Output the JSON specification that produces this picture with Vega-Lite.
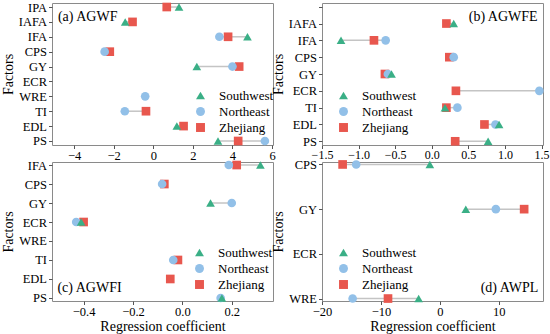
{
  "$schema": "https://vega.github.io/schema/vega-lite/v6.json",
  "padding": {"left": 0, "top": 0, "right": 0, "bottom": 0},
  "background": "white",
  "datasets": {
    "pts": [
      {"p": "a", "f": "IPA", "r": "Zhejiang", "v": 0.68},
      {"p": "a", "f": "IPA", "r": "Southwest", "v": 1.3},
      {"p": "a", "f": "IAFA", "r": "Zhejiang", "v": -1.05},
      {"p": "a", "f": "IAFA", "r": "Southwest", "v": -1.42},
      {"p": "a", "f": "IFA", "r": "Zhejiang", "v": 3.78},
      {"p": "a", "f": "IFA", "r": "Northeast", "v": 3.34},
      {"p": "a", "f": "IFA", "r": "Southwest", "v": 4.76},
      {"p": "a", "f": "CPS", "r": "Zhejiang", "v": -2.2},
      {"p": "a", "f": "CPS", "r": "Northeast", "v": -2.46},
      {"p": "a", "f": "GY", "r": "Zhejiang", "v": 4.34},
      {"p": "a", "f": "GY", "r": "Northeast", "v": 4.0},
      {"p": "a", "f": "GY", "r": "Southwest", "v": 2.2},
      {"p": "a", "f": "WRE", "r": "Northeast", "v": -0.41},
      {"p": "a", "f": "TI", "r": "Zhejiang", "v": -0.37},
      {"p": "a", "f": "TI", "r": "Northeast", "v": -1.44},
      {"p": "a", "f": "EDL", "r": "Zhejiang", "v": 1.53},
      {"p": "a", "f": "EDL", "r": "Southwest", "v": 1.19},
      {"p": "a", "f": "PS", "r": "Zhejiang", "v": 4.29},
      {"p": "a", "f": "PS", "r": "Northeast", "v": 5.64},
      {"p": "a", "f": "PS", "r": "Southwest", "v": 3.27},
      {"p": "b", "f": "IAFA", "r": "Zhejiang", "v": 0.2},
      {"p": "b", "f": "IAFA", "r": "Southwest", "v": 0.3},
      {"p": "b", "f": "IFA", "r": "Zhejiang", "v": -0.79},
      {"p": "b", "f": "IFA", "r": "Northeast", "v": -0.63},
      {"p": "b", "f": "IFA", "r": "Southwest", "v": -1.24},
      {"p": "b", "f": "CPS", "r": "Zhejiang", "v": 0.24},
      {"p": "b", "f": "CPS", "r": "Northeast", "v": 0.3},
      {"p": "b", "f": "GY", "r": "Zhejiang", "v": -0.64},
      {"p": "b", "f": "GY", "r": "Northeast", "v": -0.6},
      {"p": "b", "f": "GY", "r": "Southwest", "v": -0.55},
      {"p": "b", "f": "ECR", "r": "Zhejiang", "v": 0.33},
      {"p": "b", "f": "ECR", "r": "Northeast", "v": 1.47},
      {"p": "b", "f": "TI", "r": "Zhejiang", "v": 0.2},
      {"p": "b", "f": "TI", "r": "Northeast", "v": 0.35},
      {"p": "b", "f": "TI", "r": "Southwest", "v": 0.18},
      {"p": "b", "f": "EDL", "r": "Zhejiang", "v": 0.72},
      {"p": "b", "f": "EDL", "r": "Northeast", "v": 0.87},
      {"p": "b", "f": "EDL", "r": "Southwest", "v": 0.92},
      {"p": "b", "f": "PS", "r": "Zhejiang", "v": 0.32},
      {"p": "b", "f": "PS", "r": "Southwest", "v": 0.77},
      {"p": "c", "f": "IFA", "r": "Zhejiang", "v": 0.22},
      {"p": "c", "f": "IFA", "r": "Northeast", "v": 0.188},
      {"p": "c", "f": "IFA", "r": "Southwest", "v": 0.316},
      {"p": "c", "f": "CPS", "r": "Zhejiang", "v": -0.073},
      {"p": "c", "f": "CPS", "r": "Northeast", "v": -0.082},
      {"p": "c", "f": "GY", "r": "Northeast", "v": 0.2},
      {"p": "c", "f": "GY", "r": "Southwest", "v": 0.114},
      {"p": "c", "f": "ECR", "r": "Zhejiang", "v": -0.4},
      {"p": "c", "f": "ECR", "r": "Northeast", "v": -0.43},
      {"p": "c", "f": "ECR", "r": "Southwest", "v": -0.41},
      {"p": "c", "f": "TI", "r": "Zhejiang", "v": -0.018},
      {"p": "c", "f": "TI", "r": "Northeast", "v": -0.037},
      {"p": "c", "f": "EDL", "r": "Zhejiang", "v": -0.049},
      {"p": "c", "f": "PS", "r": "Northeast", "v": 0.155},
      {"p": "c", "f": "PS", "r": "Southwest", "v": 0.16},
      {"p": "d", "f": "CPS", "r": "Zhejiang", "v": -16.5},
      {"p": "d", "f": "CPS", "r": "Northeast", "v": -14.2},
      {"p": "d", "f": "CPS", "r": "Southwest", "v": -1.7},
      {"p": "d", "f": "GY", "r": "Zhejiang", "v": 14.3},
      {"p": "d", "f": "GY", "r": "Northeast", "v": 9.5},
      {"p": "d", "f": "GY", "r": "Southwest", "v": 4.4},
      {"p": "d", "f": "WRE", "r": "Zhejiang", "v": -8.8},
      {"p": "d", "f": "WRE", "r": "Northeast", "v": -14.8},
      {"p": "d", "f": "WRE", "r": "Southwest", "v": -3.6}
    ],
    "labs": [
      {"p": "a", "t": "(a) AGWF"},
      {"p": "b", "t": "(b) AGWFE"},
      {"p": "c", "t": "(c) AGWFI"},
      {"p": "d", "t": "(d) AWPL"}
    ]
  },
  "config": {
    "font": "Liberation Serif, DejaVu Serif, serif",
    "view": {"stroke": "#8a8a8a", "strokeWidth": 1},
    "text": {"font": "Liberation Serif, DejaVu Serif, serif"},
    "axis": {
      "domain": false, "grid": false,
      "labelFont": "Liberation Serif, DejaVu Serif, serif", "labelFontSize": 12.5, "labelColor": "#000",
      "titleFont": "Liberation Serif, DejaVu Serif, serif", "titleFontSize": 14, "titleFontWeight": "normal", "titleColor": "#000",
      "tickColor": "#555", "tickSize": 3.5, "labelOverlap": false, "labelFlush": false, "labelBound": false
    },
    "axisY": {"titlePadding": 3, "labelPadding": 2},
    "axisX": {"titlePadding": 1, "labelPadding": 1, "labelOverlap": false},
    "legend": {
      "labelFont": "Liberation Serif, DejaVu Serif, serif", "labelFontSize": 13, "labelColor": "#000",
      "symbolSize": 80, "symbolStrokeWidth": 0, "rowPadding": 2, "labelOffset": 12, "padding": 0
    }
  },
  "columns": 2,
  "spacing": {"row": 17, "column": 49},
  "bounds": "flush",
  "resolve": {"scale": {"x": "independent", "y": "independent", "color": "independent", "shape": "independent"}},
  "concat": [
    {
      "width": 221, "height": 142,
      "layer": [
        {"mark": {"type": "rule", "color": "#b8b8b8", "strokeWidth": 1.5}, "encoding": {"x": {"datum": 0, "type": "quantitative", "title": null}}},
        {"data": {"name": "pts"}, "transform": [{"filter": "datum.p == 'a'"}],
         "mark": {"type": "rule", "color": "#c4c4c4", "strokeWidth": 1.5},
         "encoding": {
           "y": {"field": "f", "type": "nominal", "title": "Factors", "scale": {"type": "point", "domain": ["IPA","IAFA","IFA","CPS","GY","ECR","WRE","TI","EDL","PS"], "padding": 0.27}},
           "x": {"aggregate": "min", "field": "v", "type": "quantitative", "title": null},
           "x2": {"aggregate": "max", "field": "v"}
         }},
        {"data": {"name": "pts"}, "transform": [{"filter": "datum.p == 'a'"}],
         "mark": {"type": "point", "filled": true, "opacity": 1, "size": 75},
         "encoding": {
           "y": {"field": "f", "type": "nominal", "title": "Factors", "scale": {"type": "point", "domain": ["IPA","IAFA","IFA","CPS","GY","ECR","WRE","TI","EDL","PS"], "padding": 0.27}},
           "x": {"field": "v", "type": "quantitative", "title": null, "scale": {"domain": [-5.12, 6.05], "nice": false, "zero": false},
                 "axis": {"values": [-4,-2,0,2,4,6], "format": "d", "labelOverlap": false}},
           "color": {"field": "r", "type": "nominal", "scale": {"domain": ["Southwest","Northeast","Zhejiang"], "range": ["#3aaf86","#92c0e8","#e8574e"]},
                     "legend": {"orient": "none", "legendX": 142, "legendY": 86, "title": null}},
           "shape": {"field": "r", "type": "nominal", "scale": {"domain": ["Southwest","Northeast","Zhejiang"], "range": ["triangle-up","circle","square"]},
                     "legend": {"orient": "none", "legendX": 142, "legendY": 86, "title": null}}
         }},
        {"data": {"name": "labs"}, "transform": [{"filter": "datum.p == 'a'"}],
         "mark": {"type": "text", "align": "left", "baseline": "middle", "dy": -5, "fontSize": 14, "color": "#000"},
         "encoding": {"x": {"datum": -4.82, "type": "quantitative", "title": null}, "y": {"datum": "IAFA", "type": "nominal"}, "text": {"field": "t"}}}
      ]
    },
    {
      "width": 221, "height": 142,
      "encoding": {
        "x": {"type": "quantitative", "title": null, "scale": {"domain": [-1.5, 1.52], "nice": false, "zero": false},
              "axis": {"values": [-1.5,-1,-0.5,0,0.5,1,1.5], "format": ".1f", "labelOverlap": false, "labelFontSize": 12}}
      },
      "layer": [
        {"mark": {"type": "rule", "color": "#9a9a9a", "strokeWidth": 1.2}, "encoding": {"x": {"datum": 0, "type": "quantitative", "title": null, "axis": {"values": [-1.5,-1,-0.5,0,0.5,1,1.5], "format": ".1f", "labelOverlap": false, "labelFontSize": 12}}}},
        {"data": {"name": "pts"}, "transform": [{"filter": "datum.p == 'b'"}],
         "mark": {"type": "rule", "color": "#c4c4c4", "strokeWidth": 1.5},
         "encoding": {
           "y": {"field": "f", "type": "nominal", "title": "Factors", "scale": {"type": "point", "domain": ["IPA","IAFA","IFA","CPS","GY","ECR","TI","EDL","PS"], "padding": 0.22},
                 "axis": {"labelExpr": "datum.value == 'IPA' ? '' : datum.label"}},
           "x": {"aggregate": "min", "field": "v", "type": "quantitative", "title": null, "axis": {"values": [-1.5,-1,-0.5,0,0.5,1,1.5], "format": ".1f", "labelOverlap": false, "labelFontSize": 12}},
           "x2": {"aggregate": "max", "field": "v"}
         }},
        {"data": {"name": "pts"}, "transform": [{"filter": "datum.p == 'b'"}],
         "mark": {"type": "point", "filled": true, "opacity": 1, "size": 75},
         "encoding": {
           "y": {"field": "f", "type": "nominal", "title": "Factors", "scale": {"type": "point", "domain": ["IPA","IAFA","IFA","CPS","GY","ECR","TI","EDL","PS"], "padding": 0.22},
                 "axis": {"labelExpr": "datum.value == 'IPA' ? '' : datum.label"}},
           "x": {"field": "v", "type": "quantitative", "title": null, "scale": {"domain": [-1.5, 1.52], "nice": false, "zero": false},
                 "axis": {"values": [-1.5,-1,-0.5,0,0.5,1,1.5], "format": ".1f", "labelOverlap": false, "labelFontSize": 12}},
           "color": {"field": "r", "type": "nominal", "scale": {"domain": ["Southwest","Northeast","Zhejiang"], "range": ["#3aaf86","#92c0e8","#e8574e"]},
                     "legend": {"orient": "none", "legendX": 15, "legendY": 86, "title": null}},
           "shape": {"field": "r", "type": "nominal", "scale": {"domain": ["Southwest","Northeast","Zhejiang"], "range": ["triangle-up","circle","square"]},
                     "legend": {"orient": "none", "legendX": 15, "legendY": 86, "title": null}}
         }},
        {"data": {"name": "labs"}, "transform": [{"filter": "datum.p == 'b'"}],
         "mark": {"type": "text", "align": "right", "baseline": "middle", "dy": -7, "fontSize": 14, "color": "#000"},
         "encoding": {"x": {"datum": 1.446, "type": "quantitative", "title": null, "axis": {"values": [-1.5,-1,-0.5,0,0.5,1,1.5], "format": ".1f", "labelOverlap": false, "labelFontSize": 12}}, "y": {"datum": "IAFA", "type": "nominal"}, "text": {"field": "t"}}}
      ]
    },
    {
      "width": 221, "height": 139,
      "layer": [
        {"mark": {"type": "rule", "color": "#333333", "strokeWidth": 1.2}, "encoding": {"x": {"datum": 0, "type": "quantitative", "title": "Regression coefficient"}}},
        {"data": {"name": "pts"}, "transform": [{"filter": "datum.p == 'c'"}],
         "mark": {"type": "rule", "color": "#c4c4c4", "strokeWidth": 1.5},
         "encoding": {
           "y": {"field": "f", "type": "nominal", "title": "Factors", "scale": {"type": "point", "domain": ["IFA","CPS","GY","ECR","WRE","TI","EDL","PS"], "padding": 0.16}},
           "x": {"aggregate": "min", "field": "v", "type": "quantitative", "title": "Regression coefficient"},
           "x2": {"aggregate": "max", "field": "v"}
         }},
        {"data": {"name": "pts"}, "transform": [{"filter": "datum.p == 'c'"}],
         "mark": {"type": "point", "filled": true, "opacity": 1, "size": 75},
         "encoding": {
           "y": {"field": "f", "type": "nominal", "title": "Factors", "scale": {"type": "point", "domain": ["IFA","CPS","GY","ECR","WRE","TI","EDL","PS"], "padding": 0.16}},
           "x": {"field": "v", "type": "quantitative", "title": "Regression coefficient", "scale": {"domain": [-0.528, 0.367], "nice": false, "zero": false},
                 "axis": {"values": [-0.4,-0.2,0,0.2], "format": ".1f", "labelOverlap": false}},
           "color": {"field": "r", "type": "nominal", "scale": {"domain": ["Southwest","Northeast","Zhejiang"], "range": ["#3aaf86","#92c0e8","#e8574e"]},
                     "legend": {"orient": "none", "legendX": 141, "legendY": 84, "title": null}},
           "shape": {"field": "r", "type": "nominal", "scale": {"domain": ["Southwest","Northeast","Zhejiang"], "range": ["triangle-up","circle","square"]},
                     "legend": {"orient": "none", "legendX": 141, "legendY": 84, "title": null}}
         }},
        {"data": {"name": "labs"}, "transform": [{"filter": "datum.p == 'c'"}],
         "mark": {"type": "text", "align": "left", "baseline": "middle", "dy": 9, "fontSize": 14, "color": "#000"},
         "encoding": {"x": {"datum": -0.506, "type": "quantitative", "title": "Regression coefficient"}, "y": {"datum": "EDL", "type": "nominal"}, "text": {"field": "t"}}}
      ]
    },
    {
      "width": 221, "height": 139,
      "layer": [
        {"mark": {"type": "rule", "color": "#555555", "strokeWidth": 1.2}, "encoding": {"x": {"datum": 0, "type": "quantitative", "title": "Regression coefficient"}}},
        {"data": {"name": "pts"}, "transform": [{"filter": "datum.p == 'd'"}],
         "mark": {"type": "rule", "color": "#c4c4c4", "strokeWidth": 1.5},
         "encoding": {
           "y": {"field": "f", "type": "nominal", "title": "Factors", "scale": {"type": "point", "domain": ["CPS","GY","ECR","WRE"], "padding": 0.055}},
           "x": {"aggregate": "min", "field": "v", "type": "quantitative", "title": "Regression coefficient"},
           "x2": {"aggregate": "max", "field": "v"}
         }},
        {"data": {"name": "pts"}, "transform": [{"filter": "datum.p == 'd'"}],
         "mark": {"type": "point", "filled": true, "opacity": 1, "size": 75},
         "encoding": {
           "y": {"field": "f", "type": "nominal", "title": "Factors", "scale": {"type": "point", "domain": ["CPS","GY","ECR","WRE"], "padding": 0.055}},
           "x": {"field": "v", "type": "quantitative", "title": "Regression coefficient", "scale": {"domain": [-20, 17.5], "nice": false, "zero": false},
                 "axis": {"values": [-20,-10,0,10], "format": "d", "labelOverlap": false}},
           "color": {"field": "r", "type": "nominal", "scale": {"domain": ["Southwest","Northeast","Zhejiang"], "range": ["#3aaf86","#92c0e8","#e8574e"]},
                     "legend": {"orient": "none", "legendX": 15, "legendY": 84, "title": null}},
           "shape": {"field": "r", "type": "nominal", "scale": {"domain": ["Southwest","Northeast","Zhejiang"], "range": ["triangle-up","circle","square"]},
                     "legend": {"orient": "none", "legendX": 15, "legendY": 84, "title": null}}
         }},
        {"data": {"name": "labs"}, "transform": [{"filter": "datum.p == 'd'"}],
         "mark": {"type": "text", "align": "right", "baseline": "middle", "dy": -11, "fontSize": 14, "color": "#000"},
         "encoding": {"x": {"datum": 16.7, "type": "quantitative", "title": "Regression coefficient"}, "y": {"datum": "WRE", "type": "nominal"}, "text": {"field": "t"}}}
      ]
    }
  ]
}
